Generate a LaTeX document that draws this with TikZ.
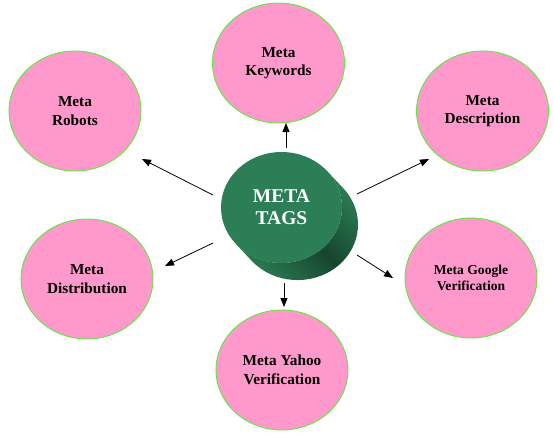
\documentclass[tikz,border=0pt]{standalone}
\usepackage{fontspec}
\setmainfont{Liberation Serif}
\usetikzlibrary{shapes.geometric,arrows.meta}
\definecolor{pinkfill}{RGB}{255,153,204}
\definecolor{rimgreen}{RGB}{90,235,60}
\definecolor{faceg}{RGB}{43,126,86}
\definecolor{sidelight}{RGB}{44,124,84}
\definecolor{sidedark}{RGB}{22,70,45}
\begin{document}
\begin{tikzpicture}[x=1pt,y=-1pt,
  bubble/.style={ellipse, draw=rimgreen, line width=0.9pt, fill=pinkfill,
    minimum width=132pt, minimum height=120pt, inner sep=0pt, align=center,
    font=\fontsize{15.3}{18.5}\selectfont\bfseries, text=black},
  face/.style={ellipse, fill=faceg, minimum width=121pt, minimum height=111pt,
    inner sep=0pt, align=center, text=white,
    font=\fontsize{19.5}{22}\selectfont\bfseries},
  conn/.style={line width=0.8pt, -{Triangle[length=9pt,width=7pt]}}]
\useasboundingbox (0,0) rectangle (554,434);
\fill[white] (0,0) rectangle (554,434);
% outer bubbles
\node[bubble] (kw) at (278.5,63) {Meta\\Keywords};
\node[bubble] (rob) at (75,111) {Meta\\Robots};
\node[bubble] (desc) at (482.5,111) {Meta\\Description};
\node[bubble] (dist) at (87,279) {Meta\\Distribution};
\node[bubble, font=\fontsize{13.6}{16.5}\selectfont\bfseries] (goog) at (471,278) {Meta Google\\Verification};
\node[bubble] (yahoo) at (282,370) {Meta Yahoo\\Verification};
% cylinder side (hull between front and back faces)
\shade[left color=sidelight, right color=sidelight, middle color=sidedark, shading angle=135]
  (327.3,171.3) -- (343.3,188.3)
  arc[start angle=-40.8, end angle=139.2, x radius=60.5, y radius=55.5]
  -- (235.7,243.7)
  arc[start angle=139.2, end angle=-40.8, x radius=60.5, y radius=55.5] -- cycle;
% cylinder face
\node[face] (tags) at (281.5,207.5) {META\\TAGS};
% connector ends
\coordinate (k0) at (286,148); \coordinate (k1) at (286,123);
\coordinate (r0) at (213,195); \coordinate (r1) at (142,159);
\coordinate (d0) at (357,194); \coordinate (d1) at (429,159);
\coordinate (i0) at (213,243); \coordinate (i1) at (165,266);
\coordinate (g0) at (357,255); \coordinate (g1) at (393,278);
\coordinate (y0) at (284,283); \coordinate (y1) at (284,307);
\draw[conn] (k0) -- (k1);
\draw[conn] (r0) -- (r1);
\draw[conn] (d0) -- (d1);
\draw[conn] (i0) -- (i1);
\draw[conn] (g0) -- (g1);
\draw[conn] (y0) -- (y1);
\end{tikzpicture}
\end{document}
